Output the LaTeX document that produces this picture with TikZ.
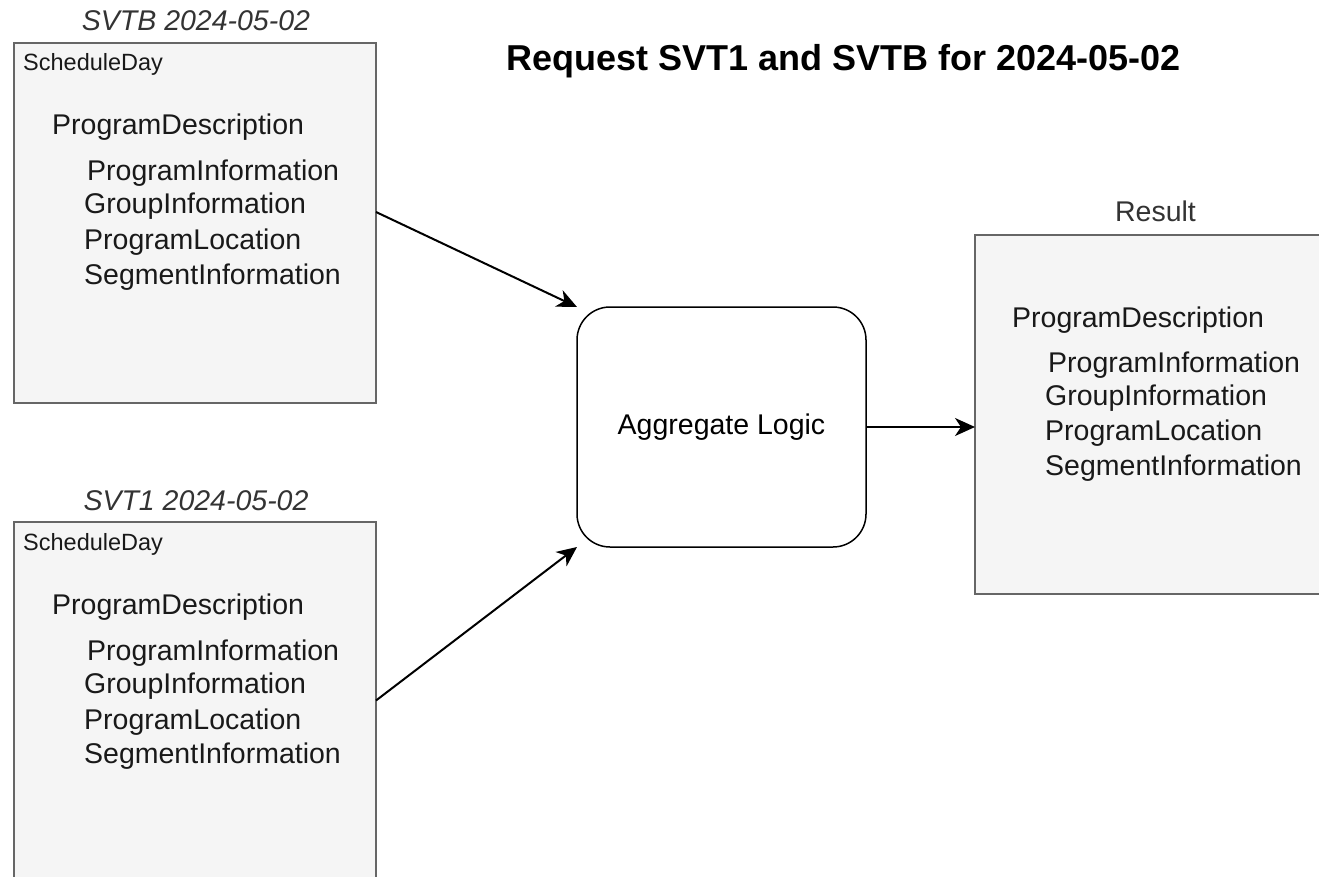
\documentclass[tikz,border=0pt]{standalone}
\usepackage{fontspec}
\setmainfont{Liberation Sans}
\usetikzlibrary{arrows.meta}
\definecolor{boxfill}{HTML}{F5F5F5}
\definecolor{boxline}{HTML}{666666}
\definecolor{labelgray}{HTML}{333333}
\newcommand\myBody{\fontsize{28.5}{34}\selectfont}
\newcommand\mySmall{\fontsize{23.5}{28}\selectfont}
\newcommand\myTitle{\fontsize{36}{42}\selectfont\bfseries}
\begin{document}
\begin{tikzpicture}[x=1pt,y=-1pt,
  schedbox/.style={draw=boxline, fill=boxfill, line width=1.5pt, anchor=north west, inner sep=0, outer sep=0, minimum width=362pt},
  aggbox/.style={draw=black, fill=white, line width=1.5pt, rounded corners=33pt, anchor=north west, inner sep=0, outer sep=0, minimum width=289pt, minimum height=240pt, font=\myBody},
  txt/.style={anchor=base west, inner sep=0, font=\myBody, text=black!90},
  smalltxt/.style={anchor=base west, inner sep=0, font=\mySmall, text=black!90},
  captxt/.style={anchor=base, inner sep=0, font=\myBody\itshape, text=labelgray},
  flow/.style={line width=2pt, -{Stealth[length=20pt, width=18pt, inset=6pt]}}
]
\useasboundingbox (0,0) rectangle (1319,877);

% boxes
\node[schedbox, minimum height=360pt] (svtb) at (14,43) {};
\node[schedbox, minimum height=357pt] (svt1) at (14,522) {};
\node[schedbox, minimum height=359pt] (res) at (975,235) {};
\node[aggbox] (agg) at (577,307) {Aggregate Logic};

% title
\node[anchor=base, inner sep=0, font=\myTitle] (title) at (843.5,71) {Request SVT1 and SVTB for 2024-05-02};

% captions
\node[captxt] (capb) at (196,31) {SVTB 2024-05-02};
\node[captxt] (cap1) at (196,510) {SVT1 2024-05-02};
\node[anchor=base, inner sep=0, font=\myBody, text=labelgray] (capr) at (1155.5,222) {Result};

% SVTB contents
\node[smalltxt] (b0) at (23,71) {ScheduleDay};
\node[txt] (b1) at (52,135) {ProgramDescription};
\node[txt] (b2) at (87,181) {ProgramInformation};
\node[txt] (b3) at (84,214) {GroupInformation};
\node[txt] (b4) at (84,250) {ProgramLocation};
\node[txt] (b5) at (84,284) {SegmentInformation};

% SVT1 contents
\node[smalltxt] (c0) at (23,550) {ScheduleDay};
\node[txt] (c1) at (52,614) {ProgramDescription};
\node[txt] (c2) at (87,660) {ProgramInformation};
\node[txt] (c3) at (84,693) {GroupInformation};
\node[txt] (c4) at (84,729) {ProgramLocation};
\node[txt] (c5) at (84,763) {SegmentInformation};

% Result contents
\node[txt] (r1) at (1012,327) {ProgramDescription};
\node[txt] (r2) at (1048,372) {ProgramInformation};
\node[txt] (r3) at (1045,405) {GroupInformation};
\node[txt] (r4) at (1045,440) {ProgramLocation};
\node[txt] (r5) at (1045,475) {SegmentInformation};

% connectors
\draw[flow] ([yshift=11pt]svtb.east) -- (agg.north west);
\draw[flow] (svt1.east) -- (agg.south west);
\draw[flow] (agg.east) -- (agg.east -| res.west);
\end{tikzpicture}
\end{document}
